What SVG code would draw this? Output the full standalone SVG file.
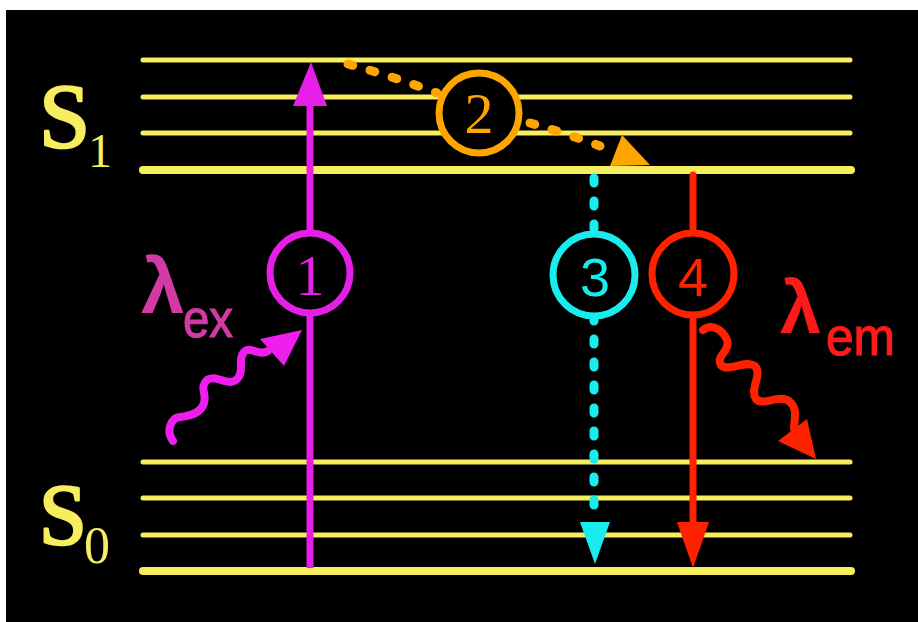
<svg xmlns="http://www.w3.org/2000/svg" width="918" height="622" viewBox="0 0 918 622">
  <style>
    .level { stroke: #f6ee5e; stroke-linecap: round; fill: none; }
    .thin { stroke-width: 5; }
    .thick { stroke-width: 8; }
    .state { font-family: "Liberation Serif", "Times New Roman", serif; fill: #f6ee5e; }
    .state-big { stroke: #f6ee5e; stroke-width: 2.5; stroke-linejoin: round; }
    .ring { fill: #000; stroke-width: 7; }
    .num-serif { font-family: "Liberation Serif", serif; font-size: 58px; text-anchor: middle; }
    .num-sans { font-family: "Liberation Sans", Arial, sans-serif; font-size: 54px; text-anchor: middle; }
    .lam { font-family: "Liberation Sans", Arial, sans-serif; font-weight: bold; }
    .sub { font-family: "Liberation Sans", Arial, sans-serif; stroke-width: 1.2; }
  </style>

  <!-- background -->
  <rect x="0" y="0" width="918" height="622" fill="#fff"/>
  <rect x="6" y="10" width="912" height="612" fill="#000"/>

  <!-- energy levels -->
  <g id="levels">
    <g id="s1-levels">
      <line class="level thin" x1="143" y1="60" x2="850" y2="60"/>
      <line class="level thin" x1="143" y1="97" x2="850" y2="97"/>
      <line class="level thin" x1="143" y1="133" x2="850" y2="133"/>
      <line class="level thick" x1="143" y1="170" x2="851" y2="170"/>
    </g>
    <g id="s0-levels">
      <line class="level thin" x1="143" y1="462" x2="850" y2="462"/>
      <line class="level thin" x1="143" y1="498" x2="850" y2="498"/>
      <line class="level thin" x1="143" y1="535" x2="850" y2="535"/>
      <line class="level thick" x1="143" y1="571" x2="851" y2="571"/>
    </g>
  </g>

  <!-- state labels -->
  <g id="label-s1">
    <text class="state state-big" x="39" y="147" font-size="92">S</text>
    <text class="state" x="88" y="167" font-size="48">1</text>
  </g>
  <g id="label-s0">
    <text class="state state-big" x="39" y="544" font-size="86">S</text>
    <text class="state" x="84" y="563" font-size="52">0</text>
  </g>

  <!-- transitions -->
  <g id="connectors">
    <!-- 1: absorption -->
    <g id="absorption" fill="#e61fe6" stroke="#e61fe6">
      <line x1="310" y1="568" x2="310" y2="100" stroke-width="7"/>
      <polygon points="293,106 327,106 311,62" stroke="none"/>
    </g>
    <!-- 2: vibrational relaxation -->
    <g id="relaxation" stroke="#ffa500" fill="none">
      <path d="M348,64 Q392,76 437,93" stroke-width="9" stroke-linecap="round" stroke-dasharray="5 18"/>
      <path d="M530,123 Q565,133 600,146" stroke-width="9" stroke-linecap="round" stroke-dasharray="5 18"/>
      <polygon points="622,135 650,165 610,166" fill="#ffa500" stroke="none"/>
    </g>
    <!-- 3: non-radiative decay -->
    <g id="nonradiative" stroke="#19ecec" fill="#19ecec">
      <line x1="594" y1="178" x2="594" y2="515" stroke-width="9" stroke-linecap="round" stroke-dasharray="5 18" fill="none"/>
      <polygon points="580,522 610,522 595,564" stroke="none"/>
    </g>
    <!-- 4: fluorescence -->
    <g id="fluorescence" stroke="#ff2200" fill="#ff2200">
      <line x1="693" y1="175" x2="693" y2="530" stroke-width="7" stroke-linecap="round"/>
      <polygon points="677,522 709,522 693,568" stroke="none"/>
    </g>
    <!-- incoming photon -->
    <g id="photon-in">
      <path d="M173,441 C166,432 170,418 180,417 C191,416 201,413 204,403 C207,393 199,388 207,380 C216,373 229,389 238,378 C245,369 237,360 244,352 C251,345 258,357 268,351" fill="none" stroke="#ee1fee" stroke-width="8" stroke-linecap="round"/>
      <polygon points="260,339 302,330 284,366" fill="#ee1fee"/>
    </g>
    <!-- emitted photon -->
    <g id="photon-out">
      <path d="M703,330 C712,323 723,330 727,340 C731,351 715,356 721,365 C728,373 745,359 755,366 C763,375 749,388 756,399 C763,407 780,393 790,402 C797,408 795,416 794,428" fill="none" stroke="#ff2200" stroke-width="8" stroke-linecap="round"/>
      <polygon points="778,441 807,419 816,459" fill="#ff2200"/>
    </g>
  </g>

  <!-- numbered markers -->
  <g id="node-1">
    <circle class="ring" cx="310" cy="273" r="40" stroke="#e61fe6"/>
    <text class="num-serif" x="310" y="295" fill="#e61fe6">1</text>
  </g>
  <g id="node-2">
    <circle class="ring" cx="479" cy="113" r="40" stroke="#ffa500" stroke-width="8"/>
    <text class="num-serif" x="479" y="133" fill="#ffa500">2</text>
  </g>
  <g id="node-3">
    <circle class="ring" cx="594" cy="275" r="41" stroke="#19ecec"/>
    <text class="num-sans" x="595" y="296" fill="#19ecec">3</text>
  </g>
  <g id="node-4">
    <circle class="ring" cx="693" cy="274" r="41" stroke="#ff2200"/>
    <text class="num-sans" x="693" y="296" fill="#ff2200">4</text>
  </g>

  <!-- wavelength labels -->
  <g id="label-ex" fill="#d23aa6" stroke="#d23aa6">
    <text class="lam" x="141" y="313" font-size="78" stroke-width="0">λ</text>
    <text class="sub" x="183" y="337" font-size="54" textLength="50" lengthAdjust="spacingAndGlyphs">ex</text>
  </g>
  <g id="label-em" fill="#ff1a1a" stroke="#ff1a1a">
    <text class="lam" x="780" y="333" font-size="74" stroke-width="0">λ</text>
    <text class="sub" x="826" y="355" font-size="54" textLength="69" lengthAdjust="spacingAndGlyphs">em</text>
  </g>
</svg>
